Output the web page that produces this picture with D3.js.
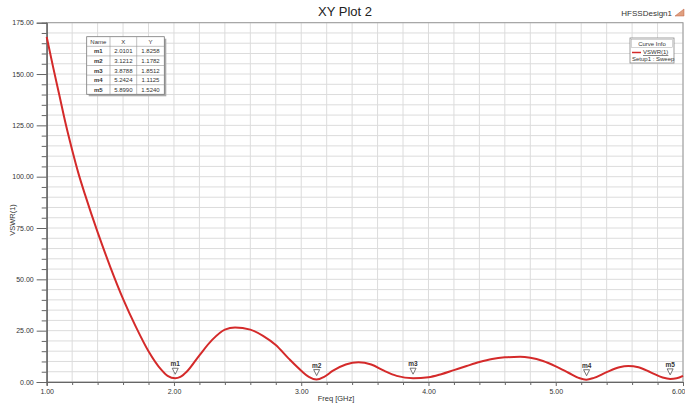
<!DOCTYPE html>
<html><head><meta charset="utf-8">
<script src="https://cdn.jsdelivr.net/npm/d3@7"></script>
<style>
html,body{margin:0;padding:0;background:#fff;}
svg{display:block;font-family:"Liberation Sans Narrow","Liberation Sans",Arial,sans-serif;}
</style></head>
<body>
<svg id="chart" width="685" height="404"></svg>
<script>
const freq = [1.00,1.05,1.10,1.15,1.20,1.25,1.30,1.35,1.40,1.50,1.60,1.70,1.80,1.90,1.95,2.01,2.05,2.10,2.20,2.30,2.40,2.48,2.60,2.70,2.80,2.90,3.00,3.06,3.12,3.18,3.25,3.35,3.45,3.55,3.65,3.75,3.88,4.00,4.10,4.20,4.30,4.40,4.50,4.60,4.72,4.80,4.90,5.00,5.10,5.18,5.24,5.30,5.40,5.50,5.57,5.65,5.75,5.84,5.90,5.95,6.00];
const vswr = [168,153.5,139.5,125.5,113,101.5,91.5,82,73,56,40.5,27,15,6,3,1.83,2.5,5,13,20.5,25.5,26.6,25.5,22.5,18,11.5,5.5,2.5,1.18,2.5,5.5,8.5,9.6,8.5,5.5,3,1.85,2.3,3.8,5.8,7.8,9.7,11.2,12.0,12.3,11.8,10.2,7.6,4.5,2.0,1.11,2.0,4.8,7.2,7.8,7.2,4.6,2.2,1.52,1.8,3.0];
const markerNames = ["m1","m2","m3","m4","m5"];
const markerX = [2.0101,3.1212,3.8788,5.2424,5.8990];
const markerY = [1.8258,1.1782,1.8512,1.1125,1.5240];
const xTicks = [1,2,3,4,5,6];
const yTicks = [0,25,50,75,100,125,150,175];

const svg = d3.select("#chart");
const L=46.7, R=683, T=22.7, B=382;
const x = d3.scaleLinear().domain([1,6]).range([L,R]);
const y = d3.scaleLinear().domain([0,175]).range([B,T]);

// grid
const gx = d3.range(1,6.0001,0.2);
const gy = d3.range(0,175.001,5);
svg.append("g").selectAll("line").data(gx).join("line")
  .attr("x1",d=>x(d)).attr("x2",d=>x(d)).attr("y1",T).attr("y2",B)
  .attr("stroke","#dcdcdc").attr("stroke-width",1);
svg.append("g").selectAll("line").data(gy).join("line")
  .attr("x1",L).attr("x2",R).attr("y1",d=>y(d)).attr("y2",d=>y(d))
  .attr("stroke","#dcdcdc").attr("stroke-width",1);

// frame
svg.append("rect").attr("x",L).attr("y",T).attr("width",R-L).attr("height",B-T)
  .attr("fill","none").attr("stroke","#9a9a9a").attr("stroke-width",1);

// axes
const yAxis = d3.axisLeft(y).tickValues(yTicks).tickFormat(d3.format(".2f")).tickSize(10).tickPadding(3);
svg.append("g").attr("transform",`translate(${L},0)`).call(yAxis);
const yMinor = d3.axisLeft(y).tickValues(gy.filter(d=>d%25!==0)).tickSize(5).tickFormat("");
svg.append("g").attr("transform",`translate(${L},0)`).call(yMinor);
const xAxis = d3.axisBottom(x).tickValues(xTicks).tickFormat(d3.format(".2f")).tickSize(4).tickPadding(3);
const xa = svg.append("g").attr("transform",`translate(0,${B})`).call(xAxis);
const xMinor = d3.axisBottom(x).tickValues(gx.filter(d=>Math.abs(d-Math.round(d))>0.01)).tickSize(3).tickFormat("");
svg.append("g").attr("transform",`translate(0,${B})`).call(xMinor);
svg.selectAll(".domain").attr("stroke","#666");
svg.selectAll(".tick line").attr("stroke","#666");
svg.selectAll(".tick text").attr("font-size","7px").attr("fill","#333")
  .attr("font-family","'Liberation Sans Narrow','Liberation Sans',Arial,sans-serif");
// last x label would be cut by the window edge: anchor it at its end
xa.selectAll(".tick text").filter(d=>d===6).attr("text-anchor","end").attr("dx","2");

// curve
const line = d3.line().x((d,i)=>x(freq[i])).y(d=>y(d)).curve(d3.curveMonotoneX);
svg.append("path").datum(vswr).attr("d",line).attr("fill","none")
  .attr("stroke","#d42a2a").attr("stroke-width",2);

// markers
const mg = svg.append("g");
markerNames.forEach((n,i)=>{
  const mx = x(markerX[i]), my = y(markerY[i]);
  mg.append("path").attr("d",`M${mx-3},${my-10}L${mx+3},${my-10}L${mx},${my-4}Z`)
    .attr("fill","#fff").attr("stroke","#555").attr("stroke-width",0.8);
  mg.append("text").attr("x",mx).attr("y",my-12).attr("text-anchor","middle")
    .attr("font-size","6.5px").attr("font-weight","bold").attr("fill","#333").text(n);
});

// titles
svg.append("text").attr("x",345).attr("y",16).attr("text-anchor","middle")
  .attr("font-size","13px").attr("fill","#222").text("XY Plot 2");
svg.append("text").attr("x",672).attr("y",16).attr("text-anchor","end")
  .attr("font-size","8px").attr("fill","#333").text("HFSSDesign1");
svg.append("path").attr("d","M675,16L684,16L684,9Z").attr("fill","#e0a080").attr("stroke","#c06040").attr("stroke-width",0.5);
svg.append("text").attr("transform","translate(15,220) rotate(-90)").attr("text-anchor","middle")
  .attr("font-size","7.5px").attr("fill","#333").text("VSWR(1)");
svg.append("text").attr("x",336).attr("y",401).attr("text-anchor","middle")
  .attr("font-size","7.5px").attr("fill","#333").text("Freq [GHz]");

// marker table
const tX=[86.7,110,136.7,164.3], tY0=36.7, rh=9.6;
const tg = svg.append("g");
tg.append("rect").attr("x",tX[0]+2).attr("y",tY0+2).attr("width",tX[3]-tX[0]).attr("height",rh*6).attr("fill","#aaa");
tg.append("rect").attr("x",tX[0]).attr("y",tY0).attr("width",tX[3]-tX[0]).attr("height",rh*6)
  .attr("fill","#fff").attr("stroke","#777").attr("stroke-width",0.8);
for(let r=1;r<6;r++) tg.append("line").attr("x1",tX[0]).attr("x2",tX[3]).attr("y1",tY0+r*rh).attr("y2",tY0+r*rh).attr("stroke","#999").attr("stroke-width",0.6);
for(let c=1;c<3;c++) tg.append("line").attr("x1",tX[c]).attr("x2",tX[c]).attr("y1",tY0).attr("y2",tY0+6*rh).attr("stroke","#999").attr("stroke-width",0.6);
const hdr=["Name","X","Y"];
hdr.forEach((h,c)=>tg.append("text").attr("x",(tX[c]+tX[c+1])/2).attr("y",tY0+rh*0.5+2.2).attr("text-anchor","middle").attr("font-size","6px").attr("fill","#333").text(h));
markerNames.forEach((n,i)=>{
  const yy = tY0+rh*(i+1.5)+2.2;
  tg.append("text").attr("x",(tX[0]+tX[1])/2).attr("y",yy).attr("text-anchor","middle").attr("font-size","6px").attr("font-weight","bold").attr("fill","#333").text(n);
  tg.append("text").attr("x",(tX[1]+tX[2])/2).attr("y",yy).attr("text-anchor","middle").attr("font-size","6px").attr("fill","#333").text(markerX[i].toFixed(4));
  tg.append("text").attr("x",(tX[2]+tX[3])/2).attr("y",yy).attr("text-anchor","middle").attr("font-size","6px").attr("fill","#333").text(markerY[i].toFixed(4));
});

// legend
const lg = svg.append("g");
lg.append("rect").attr("x",630).attr("y",38).attr("width",44).attr("height",25).attr("fill","#fff").attr("stroke","#888").attr("stroke-width",0.8);
lg.append("rect").attr("x",631.5).attr("y",39.5).attr("width",41).attr("height",8).attr("fill","#fff").attr("stroke","#aaa").attr("stroke-width",0.5);
lg.append("text").attr("x",652).attr("y",46).attr("text-anchor","middle").attr("font-size","6px").attr("fill","#333").text("Curve Info");
lg.append("line").attr("x1",632).attr("x2",641).attr("y1",52.5).attr("y2",52.5).attr("stroke","#d42a2a").attr("stroke-width",1.5);
lg.append("text").attr("x",643).attr("y",54).attr("font-size","6px").attr("fill","#333").attr("text-decoration","underline").text("VSWR(1)");
lg.append("text").attr("x",632).attr("y",61).attr("font-size","6px").attr("fill","#333").text("Setup1 : Sweep");
</script>
</body></html>
